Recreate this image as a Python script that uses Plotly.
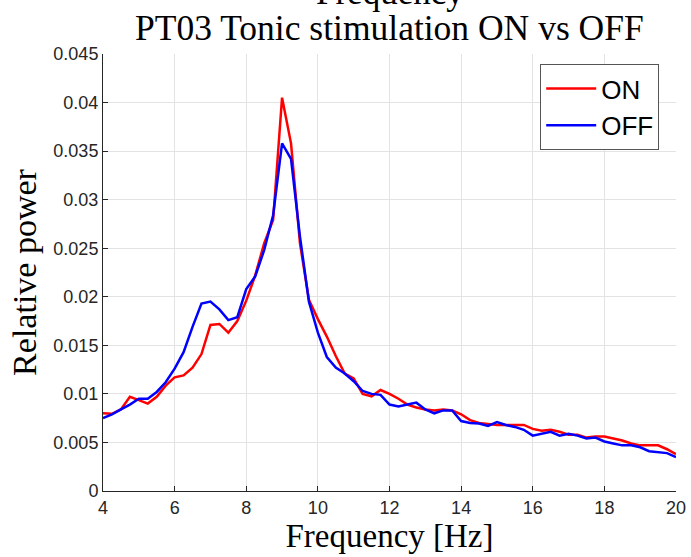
import plotly.graph_objects as go

freq = [4 + 0.25 * i for i in range(65)]

power_on = [
    0.0080, 0.00795, 0.0084, 0.0097, 0.00935, 0.0090, 0.0097, 0.01085,
    0.0117, 0.0119, 0.0127, 0.0141, 0.0171, 0.0172, 0.0163, 0.0175,
    0.0196, 0.0222, 0.0255, 0.0279, 0.0405, 0.0358, 0.0255, 0.0197,
    0.0177, 0.0159, 0.0139, 0.0121, 0.0116, 0.0100, 0.00975, 0.0104,
    0.0100, 0.0095, 0.0089, 0.0086, 0.0084, 0.0083, 0.0084, 0.0083,
    0.0079, 0.0073, 0.0070, 0.0069, 0.0068, 0.0068, 0.0068, 0.0068,
    0.0064, 0.0062, 0.0063, 0.0061, 0.0058, 0.0058, 0.0055, 0.0056,
    0.0056, 0.0054, 0.0052, 0.0049, 0.0047, 0.0047, 0.0047, 0.0043,
    0.0038,
]

power_off = [
    0.0075, 0.0079, 0.0084, 0.0089, 0.0095, 0.0095, 0.0102, 0.0112,
    0.0126, 0.0143, 0.0169, 0.0193, 0.0195, 0.0187, 0.0176, 0.0179,
    0.0208, 0.0221, 0.0248, 0.0284, 0.0358, 0.0342, 0.0262, 0.0195,
    0.0163, 0.0138, 0.0127, 0.0121, 0.0113, 0.0103, 0.0100, 0.0099,
    0.0089, 0.0087, 0.0089, 0.0091, 0.0084, 0.0080, 0.0083, 0.0083,
    0.0072, 0.0070, 0.00695, 0.0067, 0.0071, 0.0068, 0.0066, 0.0063,
    0.0057, 0.0059, 0.0061, 0.0057, 0.0059, 0.0057, 0.0054, 0.0055,
    0.0051, 0.0049, 0.0047, 0.0047, 0.0045, 0.0041, 0.0040, 0.0039,
    0.0035,
]

x_ticks = [4, 6, 8, 10, 12, 14, 16, 18, 20]
y_ticks = [0, 0.005, 0.01, 0.015, 0.02, 0.025, 0.03, 0.035, 0.04, 0.045]
y_tick_labels = ["0", "0.005", "0.01", "0.015", "0.02", "0.025", "0.03",
                 "0.035", "0.04", "0.045"]

serif = "Liberation Serif, Times New Roman, serif"
sans = "Liberation Sans, Arial, Helvetica, sans-serif"
axis_col = "#262626"

fig = go.Figure()
fig.add_trace(go.Scatter(x=freq, y=power_on, mode="lines", name="ON",
                         line=dict(color="#ff0000", width=2.5)))
fig.add_trace(go.Scatter(x=freq, y=power_off, mode="lines", name="OFF",
                         line=dict(color="#0000ff", width=2.5)))

fig.update_layout(
    width=691, height=557,
    margin=dict(l=103, r=15, t=54, b=66, autoexpand=False),
    paper_bgcolor="white", plot_bgcolor="white",
    showlegend=True,
    legend=dict(x=0.763, y=0.977, xanchor="left", yanchor="top",
                bgcolor="white", bordercolor="#555555", borderwidth=1,
                font=dict(family=sans, size=26, color="black"),
                tracegroupgap=0, itemwidth=50),
    annotations=[
        dict(text="Frequency", xref="paper", yref="paper", x=0.5, y=1,
             xanchor="center", yanchor="bottom", yshift=40, showarrow=False,
             font=dict(family=serif, size=35, color="black")),
        dict(text="PT03 Tonic stimulation ON vs OFF", xref="paper", yref="paper",
             x=0.5, y=1, xanchor="center", yanchor="bottom", yshift=4,
             showarrow=False, font=dict(family=serif, size=35.5, color="black")),
    ],
)

fig.update_xaxes(
    range=[4, 20], tickvals=x_ticks, ticktext=[str(v) for v in x_ticks],
    automargin=False,
    showgrid=True, gridcolor="#e3e3e3", gridwidth=1,
    showline=True, linecolor=axis_col, linewidth=1, mirror=False,
    ticks="inside", ticklen=5, tickcolor=axis_col, zeroline=False,
    tickfont=dict(family=sans, size=18, color=axis_col),
    title=dict(text="Frequency [Hz]", font=dict(family=serif, size=33, color="black"),
               standoff=2),
)
fig.update_yaxes(
    range=[0, 0.045], tickvals=y_ticks, ticktext=y_tick_labels,
    automargin=False,
    showgrid=True, gridcolor="#e3e3e3", gridwidth=1,
    showline=True, linecolor=axis_col, linewidth=1, mirror=False,
    ticks="inside", ticklen=5, tickcolor=axis_col, zeroline=False,
    tickfont=dict(family=sans, size=18, color=axis_col),
    title=dict(text="Relative power", font=dict(family=serif, size=34, color="black"),
               standoff=6),
)

fig.write_html("out.html")
